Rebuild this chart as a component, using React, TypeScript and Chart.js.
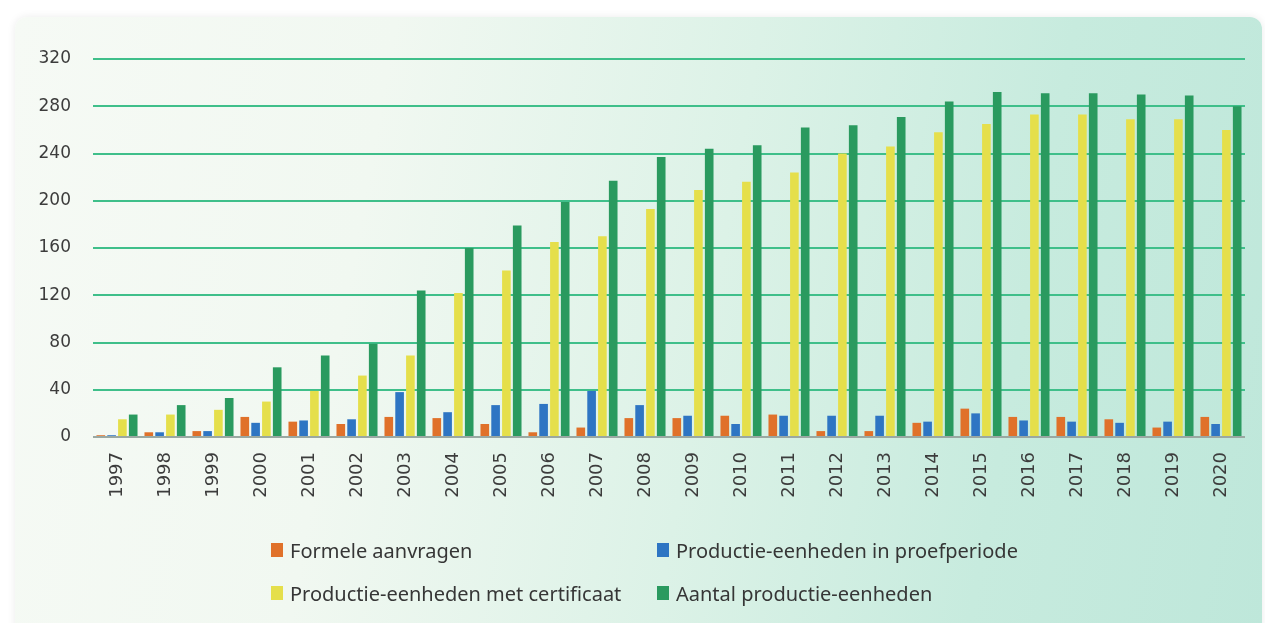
import React, { useEffect, useRef } from "react";
import { Chart, registerables } from "chart.js";

Chart.register(...registerables);

const years = [
  "1997", "1998", "1999", "2000", "2001", "2002", "2003", "2004",
  "2005", "2006", "2007", "2008", "2009", "2010", "2011", "2012",
  "2013", "2014", "2015", "2016", "2017", "2018", "2019", "2020",
];

const formeleAanvragen = [1.5, 4, 5, 17, 13, 11, 17, 16, 11, 4, 8, 16, 16, 18, 19, 5, 5, 12, 24, 17, 17, 15, 8, 17];
const inProefperiode = [1.5, 4, 5, 12, 14, 15, 38, 21, 27, 28, 39, 27, 18, 11, 18, 18, 18, 13, 20, 14, 13, 12, 13, 11];
const metCertificaat = [15, 19, 23, 30, 39, 52, 69, 122, 141, 165, 170, 193, 209, 216, 224, 240, 246, 258, 265, 273, 273, 269, 269, 260];
const aantalEenheden = [19, 27, 33, 59, 69, 79, 124, 160, 179, 199, 217, 237, 244, 247, 262, 264, 271, 284, 292, 291, 291, 290, 289, 280];

const seriesNames = [
  "Formele aanvragen",
  "Productie-eenheden in proefperiode",
  "Productie-eenheden met certificaat",
  "Aantal productie-eenheden",
];
const seriesColors = ["#e0712a", "#2e75c3", "#e5df4b", "#2a9a5f"];

const W = 1265;
const H = 623;

export default function App() {
  const ref = useRef<HTMLCanvasElement | null>(null);

  useEffect(() => {
    if (!ref.current) return;
    const tickFont = { family: "'DejaVu Sans', sans-serif", size: 17 };
    const chart = new Chart(ref.current, {
      type: "bar",
      data: {
        labels: years,
        datasets: [formeleAanvragen, inProefperiode, metCertificaat, aantalEenheden].map((d, i) => ({
          label: seriesNames[i],
          data: d,
          backgroundColor: seriesColors[i],
          borderWidth: 0,
          categoryPercentage: 0.9,
          barPercentage: 0.8,
        })),
      },
      options: {
        animation: false,
        responsive: false,
        maintainAspectRatio: false,
        layout: { padding: { left: 0, right: 20, top: 59, bottom: 0 } },
        plugins: { legend: { display: false }, tooltip: { enabled: false } },
        scales: {
          x: {
            grid: { display: false, drawTicks: false },
            border: { display: false },
            ticks: {
              minRotation: 90,
              maxRotation: 90,
              autoSkip: false,
              padding: 15,
              color: "#3c3c3c",
              font: { family: "'DejaVu Sans', sans-serif", size: 18 },
            },
            afterFit: (s: any) => {
              s.height = 186;
            },
          },
          y: {
            min: 0,
            max: 320,
            ticks: { stepSize: 40, padding: 22, color: "#3c3c3c", font: tickFont },
            grid: {
              color: (ctx: any) => (ctx.tick && ctx.tick.value === 0 ? "#9aa8a2" : "#3fbf8a"),
              lineWidth: 2,
              drawTicks: false,
            },
            border: { display: false },
            afterFit: (s: any) => {
              s.width = 93;
            },
          },
        },
      },
    });
    return () => chart.destroy();
  }, []);

  const legendItems = [
    { i: 0, x: 271, y: 550 },
    { i: 1, x: 657, y: 550 },
    { i: 2, x: 271, y: 593 },
    { i: 3, x: 657, y: 593 },
  ];

  return (
    <div style={{ position: "absolute", left: 0, top: 0, width: W, height: H, background: "#ffffff", overflow: "hidden" }}>
      <div
        style={{
          position: "absolute",
          left: 15,
          top: 17,
          width: 1247,
          height: 640,
          borderRadius: 12,
          boxShadow: "0 0 8px rgba(0,0,0,0.08)",
          background:
            "linear-gradient(100deg, #f6faf5 0%, #f1f8f1 28%, #dcf2e7 55%, #c7ebde 78%, #bee7da 100%)",
        }}
      />
      <canvas ref={ref} width={W} height={H} style={{ position: "absolute", left: 0, top: 0, width: W, height: H }} />
      {legendItems.map((it) => (
        <div
          key={it.i}
          style={{
            position: "absolute",
            left: it.x,
            top: it.y - 14,
            height: 28,
            display: "flex",
            alignItems: "center",
            fontFamily: "'Noto Sans', sans-serif",
            fontSize: 20,
            color: "#363636",
            whiteSpace: "nowrap",
          }}
        >
          <span style={{ display: "inline-block", width: 12, height: 14, background: seriesColors[it.i], marginRight: 7 }} />
          <span>{seriesNames[it.i]}</span>
        </div>
      ))}
    </div>
  );
}
